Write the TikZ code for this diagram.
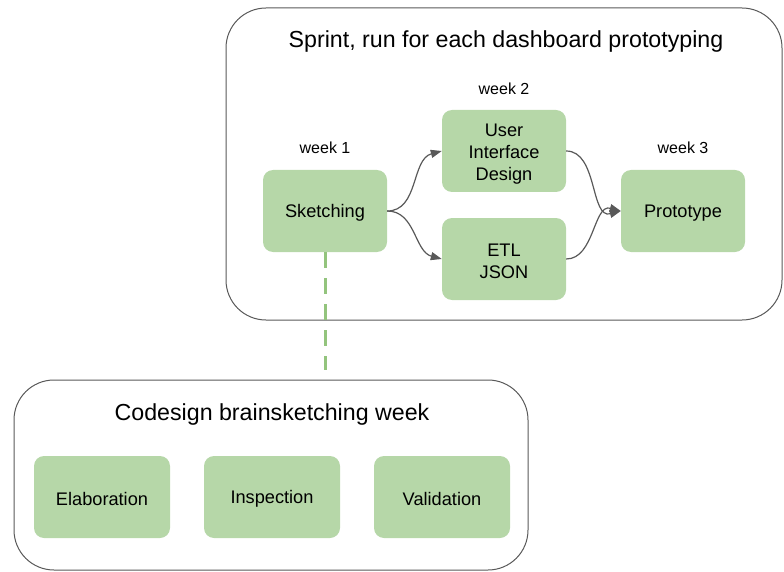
\documentclass[tikz,border=0pt]{standalone}
\usepackage{fontspec}
\setmainfont{Liberation Sans}
\usetikzlibrary{arrows.meta}
\definecolor{boxgreen}{HTML}{B6D7A8}
\definecolor{dashgreen}{HTML}{93C47D}
\definecolor{linegray}{HTML}{595959}
\begin{document}
\begin{tikzpicture}[x=1pt,y=-1pt,
  container/.style={draw=linegray, line width=1pt, rounded corners=40pt},
  stepbox/.style={fill=boxgreen, rounded corners=10pt, minimum width=124pt, minimum height=82pt, align=center, font=\fontsize{18.2}{22}\selectfont, inner sep=0pt},
  lowbox/.style={stepbox, minimum width=136pt},
  weeklabel/.style={font=\fontsize{16}{19}\selectfont},
  titletext/.style={font=\fontsize{23.2}{28}\selectfont},
  flow/.style={draw=linegray, line width=1.2pt, -{Triangle[length=11pt,width=8pt]}}
]
\useasboundingbox (0,0) rectangle (784,572);
% containers
\draw[container] (226,8) rectangle (782,320);
\draw[container] (14,380) rectangle (528,570);
\node[titletext] (title1) at (506,42) {Sprint, run for each dashboard prototyping};
\node[titletext] (title2) at (272,414) {Codesign brainsketching week};
% top nodes
\node[stepbox] (sk) at (325,211) {};
\node[stepbox] (ui) at (504,151) {};
\node[stepbox] (etl) at (504,259) {};
\node[stepbox] (pr) at (683,211) {};
\node[stepbox, fill=none] (skt) at (325,213) {Sketching};
\node[stepbox, fill=none] (uit) at (504,154) {User\\Interface\\Design};
\node[stepbox, fill=none] (etlt) at (504,261) {ETL\\JSON};
\node[stepbox, fill=none] (prt) at (683,213) {Prototype};
\node[weeklabel] (w1) at (325,148) {week 1};
\node[weeklabel] (w2) at (504,89) {week 2};
\node[weeklabel] (w3) at (683,148) {week 3};
% bottom nodes
\node[lowbox] (el) at (102,497) {};
\node[lowbox] (in) at (272,497) {};
\node[lowbox] (va) at (442,497) {};
\node[lowbox, fill=none] (elt) at (102,499) {Elaboration};
\node[lowbox, fill=none] (int) at (272,499) {Inspection};
\node[lowbox, fill=none] (vat) at (442,499) {Validation};
% connectors
\draw[flow] (sk.east) to[out=0,in=195] (ui.west);
\draw[flow] (sk.east) to[out=0,in=165] (etl.west);
\draw[flow] (ui.east) to[out=0,in=195] (pr.west);
\draw[flow] (etl.east) to[out=0,in=165] (pr.west);
\coordinate (dend) at (325,370);
\draw[dashgreen, line width=3pt, dash pattern=on 16pt off 10pt] (sk.south) -- (dend);
\end{tikzpicture}
\end{document}
